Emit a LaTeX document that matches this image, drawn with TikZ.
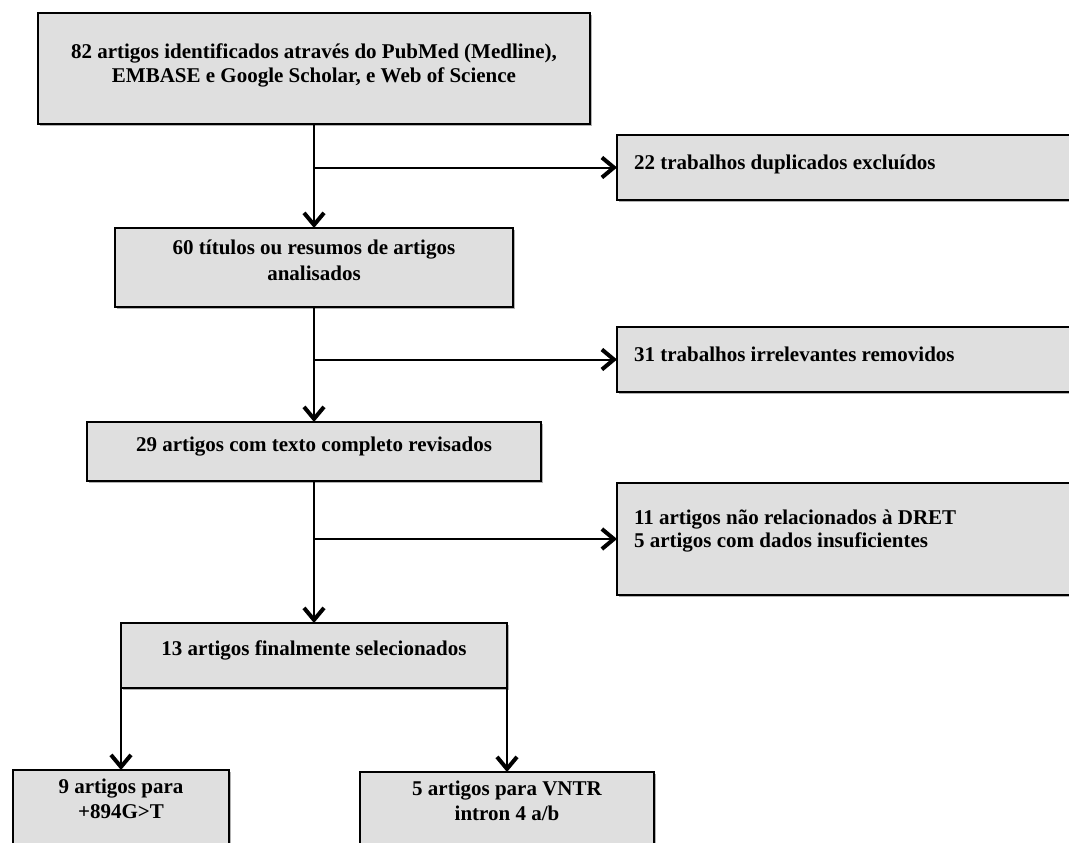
\documentclass[tikz,border=0pt]{standalone}
\usepackage{fontspec}
\setmainfont{Liberation Serif}
\usetikzlibrary{arrows.meta,shadows}
\definecolor{boxfill}{RGB}{223,223,223}
\newdimen\pxu \pxu=0.75pt
% centred text box: width, height, first-baseline offset, baselineskip, text
\newcommand{\bxc}[5]{\parbox[c][#2\pxu][t]{#1\pxu}{\fontsize{15.75pt}{#4\pxu}\selectfont\bfseries\centering\rule{0pt}{#3\pxu}#5}}
% left-aligned text box
\newcommand{\bxl}[5]{\parbox[c][#2\pxu][t]{#1\pxu}{\fontsize{15.75pt}{#4\pxu}\selectfont\bfseries\raggedright\leftskip=17\pxu\rule{0pt}{#3\pxu}#5}}
\tikzset{
  flowbox/.style={draw=black, fill=boxfill, line width=1.5pt, inner sep=0pt, outer sep=0pt,
    anchor=north west,
    drop shadow={shadow xshift=1.5pt, shadow yshift=-1.8pt, opacity=0.3, fill=black}},
  conn/.style={draw=black, line width=1.5pt,
    -{Straight Barb[length=9pt,width=15pt,line width=3pt]}}
}
\begin{document}
\begin{tikzpicture}[x=0.75pt,y=-0.75pt]
\useasboundingbox (0,0) rectangle (1069,842);
\clip (0,0) rectangle (1069,842);
\fill[white] (0,0) rectangle (1069,842);

\node[flowbox] (b1) at (38,13) {\bxc{552}{111}{46}{24}{82 artigos identificados através do PubMed (Medline),\\EMBASE e Google Scholar, e Web of Science}};
\node[flowbox] (b22) at (617,135) {\bxl{480}{65}{34}{25}{22 trabalhos duplicados excluídos}};
\node[flowbox] (b2) at (115,228) {\bxc{398}{79}{26}{26}{60 títulos ou resumos de artigos\\analisados}};
\node[flowbox] (b31) at (617,327) {\bxl{480}{65}{34}{25}{31 trabalhos irrelevantes removidos}};
\node[flowbox] (b3) at (87,422) {\bxc{454}{59}{29}{25}{29 artigos com texto completo revisados}};
\node[flowbox] (b11) at (617,483) {\bxl{480}{112}{41}{23}{11 artigos não relacionados à DRET\\5 artigos com dados insuficientes}};
\node[flowbox] (b4) at (121,623) {\bxc{386}{65}{32}{25}{13 artigos finalmente selecionados}};
\node[flowbox] (b5) at (13,770) {\bxc{216}{95}{23}{25}{9 artigos para\\+894G>T}};
\node[flowbox] (b6) at (360,772) {\bxc{294}{95}{23}{25}{5 artigos para VNTR\\intron 4 a/b}};

\coordinate (j1) at (b1.south |- b22.west);
\coordinate (j2) at (b2.south |- b31.west);
\coordinate (j3) at (b3.south |- b11.west);

\draw[conn] (b1.south) -- (b2.north);
\draw[conn] (j1) -- (b22.west);
\draw[conn] (b2.south) -- (b3.north);
\draw[conn] (j2) -- (b31.west);
\draw[conn] (b3.south) -- (b4.north);
\draw[conn] (j3) -- (b11.west);
\draw[conn] (b4.south west) -- (b5.north);
\draw[conn] (b4.south east) -- (b6.north);
\end{tikzpicture}
\end{document}
